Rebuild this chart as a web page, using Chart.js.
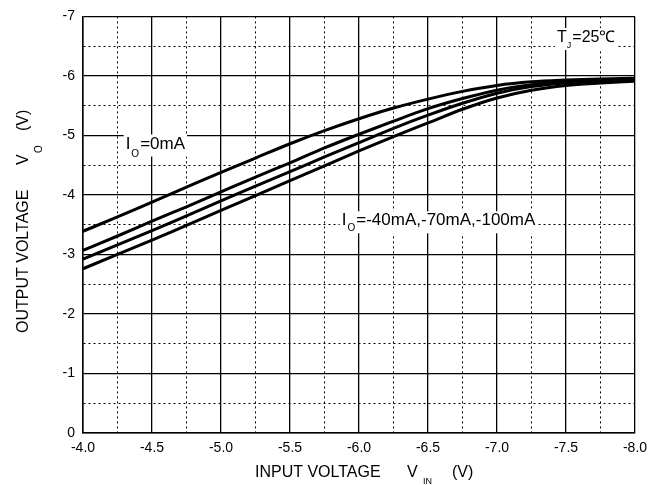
<!DOCTYPE html>
<html>
<head>
<meta charset="utf-8">
<script src="https://cdn.jsdelivr.net/npm/chart.js@4.4.0/dist/chart.umd.min.js"></script>
<style>
  body { margin: 0; background: #fff; }
  #wrap { width: 665px; height: 485px; }
</style>
</head>
<body>
<div id="wrap"><canvas id="myChart"></canvas></div>
<script>
// input voltage VIN (V)
const inputVoltage = [-4.0, -4.25, -4.5, -4.75, -5.0, -5.25, -5.5, -5.75, -6.0, -6.25, -6.5, -6.75, -7.0, -7.25, -7.5, -7.75, -8.0];

// output voltage VO (V) for each load current
const vo0mA   = [-3.39, -3.63, -3.88, -4.13, -4.38, -4.62, -4.86, -5.08, -5.28, -5.46, -5.61, -5.74, -5.84, -5.90, -5.93, -5.95, -5.96];
const vo40mA  = [-3.07, -3.31, -3.56, -3.80, -4.05, -4.30, -4.54, -4.79, -5.02, -5.24, -5.45, -5.62, -5.76, -5.85, -5.90, -5.93, -5.95];
const vo70mA  = [-2.92, -3.16, -3.40, -3.65, -3.90, -4.15, -4.39, -4.64, -4.88, -5.12, -5.34, -5.54, -5.71, -5.82, -5.88, -5.91, -5.93];
const vo100mA = [-2.76, -3.00, -3.24, -3.49, -3.74, -3.99, -4.24, -4.49, -4.74, -4.98, -5.21, -5.44, -5.63, -5.76, -5.84, -5.88, -5.91];

const xMajorLabels = ["-4.0", "-4.5", "-5.0", "-5.5", "-6.0", "-6.5", "-7.0", "-7.5", "-8.0"];
const yMajorLabels = ["0", "-1", "-2", "-3", "-4", "-5", "-6", "-7"];

const FONT = "'Liberation Sans', Arial, sans-serif";

const toPoints = (arr) => arr.map((v, i) => ({ x: inputVoltage[i], y: v }));

const isMinor = (v, step) => Math.abs(v / step - Math.round(v / step)) > 1e-6;

// draws text pieces [text, size, dy, gap] one after another
const drawPieces = (ctx, x, y, pieces) => {
  let cx = x;
  pieces.forEach((p) => {
    ctx.font = p[1] + "px " + FONT;
    ctx.fillText(p[0], cx, y + p[2]);
    cx += ctx.measureText(p[0]).width + (p[3] || 0);
  });
  return cx;
};

const notes = [
  { x: -4.309, y: -4.78, pieces: [["I", 17, 0, 1], ["O", 10, 8, 1], ["=0mA", 17, 0]] },
  { x: -5.875, y: -3.49, pieces: [["I", 17, 0, 1], ["O", 10, 6, 1], ["=-40mA,-70mA,-100mA", 17, 0]] },
  { x: -7.435, y: -6.57, pieces: [["T", 16, 0, 0], ["J", 9, 6, 1], ["=25\u2103", 16, 0]] },
];

const textPlugin = {
  id: "textPlugin",
  afterDatasetsDraw(chart) {
    const ctx = chart.ctx;
    const xs = chart.scales.x;
    const ys = chart.scales.y;
    const area = chart.chartArea;
    ctx.save();
    ctx.textBaseline = "alphabetic";
    ctx.textAlign = "left";

    notes.forEach((n) => {
      const px = xs.getPixelForValue(n.x);
      const py = ys.getPixelForValue(n.y);
      // measure to paint a white box behind
      let w = 0;
      n.pieces.forEach((p) => {
        ctx.font = p[1] + "px " + FONT;
        w += ctx.measureText(p[0]).width + (p[3] || 0);
      });
      ctx.fillStyle = "#fff";
      ctx.fillRect(px - 2, py - 14, w + 4, 22);
      ctx.fillStyle = "#000";
      drawPieces(ctx, px, py, n.pieces);
    });

    // x axis title
    ctx.fillStyle = "#000";
    const xl = area.left;
    ctx.font = "16px " + FONT;
    ctx.fillText("INPUT VOLTAGE", xl + 172, 477);
    ctx.fillText("V", xl + 324, 477);
    ctx.font = "9px " + FONT;
    ctx.fillText("IN", xl + 340, 484);
    ctx.font = "16px " + FONT;
    ctx.fillText("(V)", xl + 369, 477);

    // y axis title (rotated)
    ctx.translate(28, 0);
    ctx.rotate(-Math.PI / 2);
    ctx.font = "16px " + FONT;
    ctx.fillText("OUTPUT VOLTAGE", -333, 0);
    ctx.fillText("V", -165, 0);
    ctx.font = "10px " + FONT;
    ctx.fillText("O", -153, 14);
    ctx.font = "16px " + FONT;
    ctx.fillText("(V)", -131, 0);
    ctx.restore();
  },
};

const lineSet = (data) => ({
  data: toPoints(data),
  borderColor: "#000",
  borderWidth: 3,
  pointRadius: 0,
  fill: false,
  cubicInterpolationMode: "monotone",
});

new Chart(document.getElementById("myChart"), {
  type: "line",
  data: {
    datasets: [lineSet(vo0mA), lineSet(vo40mA), lineSet(vo70mA), lineSet(vo100mA)],
  },
  options: {
    responsive: true,
    maintainAspectRatio: false,
    animation: false,
    devicePixelRatio: 1,
    layout: { padding: { top: 14, right: 30, left: 0, bottom: 0 } },
    plugins: { legend: { display: false }, tooltip: { enabled: false } },
    scales: {
      x: {
        type: "linear",
        min: -8,
        max: -4,
        reverse: true,
        afterFit: (s) => { s.height = 52; },
        ticks: {
          stepSize: 0.25,
          autoSkip: false,
          maxRotation: 0,
          padding: 7,
          color: "#000",
          font: { family: FONT, size: 14 },
          callback: (v) => isMinor(v, 0.5) ? "" : xMajorLabels[Math.round((-4 - v) / 0.5)],
        },
        grid: {
          color: "#000",
          drawTicks: false,
          lineWidth: (c) => (c.tick && isMinor(c.tick.value, 0.5)) ? 1 : 1.3,
        },
        border: {
          display: true,
          color: "#000",
          width: 1.5,
          dash: (c) => (c.tick && isMinor(c.tick.value, 0.5)) ? [2, 3] : [],
        },
      },
      y: {
        type: "linear",
        min: -7,
        max: 0,
        reverse: true,
        afterFit: (s) => { s.width = 83; },
        ticks: {
          stepSize: 0.5,
          autoSkip: false,
          padding: 8,
          color: "#000",
          font: { family: FONT, size: 14 },
          callback: (v) => isMinor(v, 1) ? "" : yMajorLabels[Math.round(-v)],
        },
        grid: {
          color: "#000",
          drawTicks: false,
          lineWidth: (c) => (c.tick && isMinor(c.tick.value, 1)) ? 1 : 1.3,
        },
        border: {
          display: true,
          color: "#000",
          width: 1.5,
          dash: (c) => (c.tick && isMinor(c.tick.value, 1)) ? [2, 3] : [],
        },
      },
    },
  },
  plugins: [textPlugin],
});
</script>
</body>
</html>
